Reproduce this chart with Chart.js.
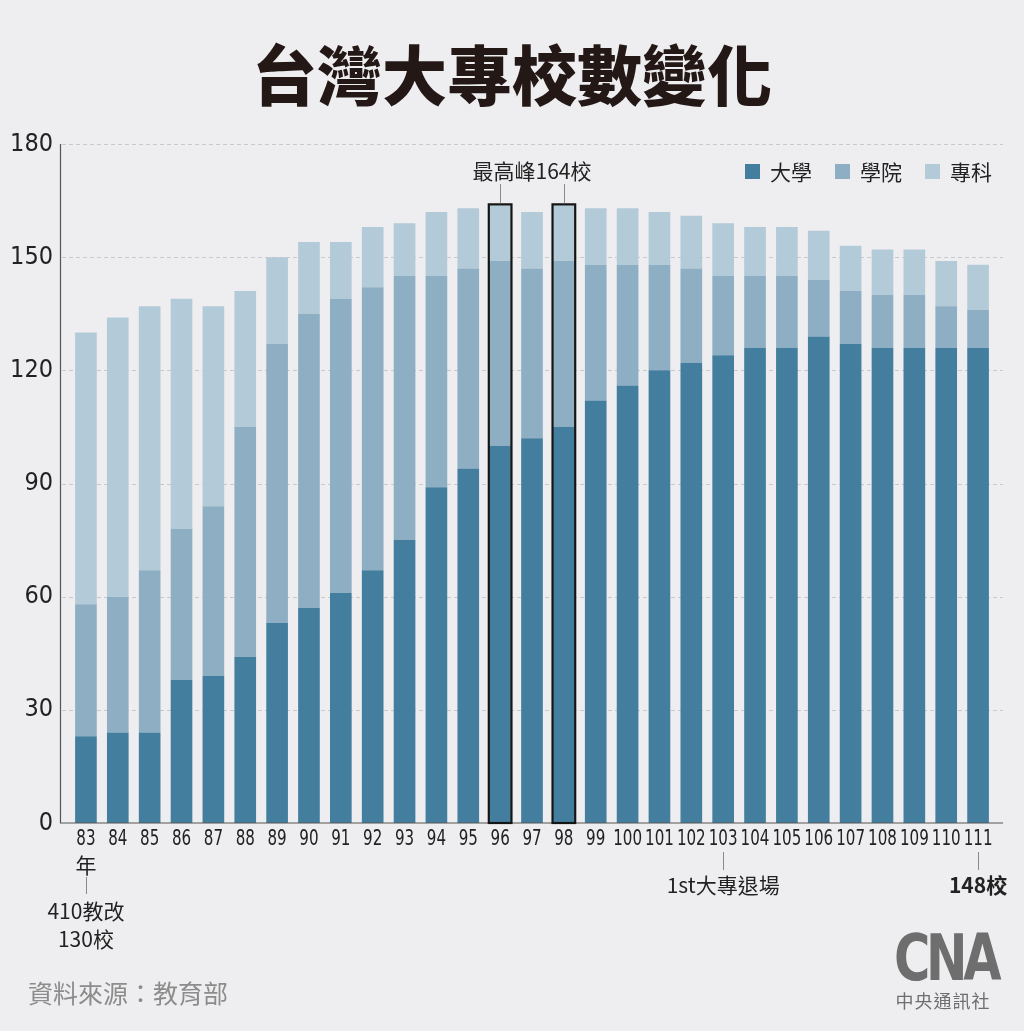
<!DOCTYPE html>
<html>
<head>
<meta charset="utf-8">
<script src="https://cdn.jsdelivr.net/npm/chart.js@4"></script>
<style>
  body { margin: 0; background: #eeeef0; }
  #wrap { position: relative; width: 1024px; height: 1031px; overflow: hidden; }
  #chart { position: absolute; left: 0; top: 0; }
  .title {
    position: absolute; left: 0; top: 29px; width: 1024px; text-align: center;
    font: 900 65px "Noto Sans CJK TC", sans-serif; color: #231815; line-height: 86px;
  }
  .source {
    position: absolute; left: 28px; top: 974px;
    font: 400 25px "Noto Sans CJK TC", sans-serif; color: #8c8c8c;
  }
  .logo { position: absolute; left: 886px; top: 926px; width: 114px; text-align: center; color: #6e6e6e; }
  .logo .mark {
    font: 900 64px "DejaVu Sans Condensed", "DejaVu Sans", sans-serif; letter-spacing: -5px; line-height: 64px;
    transform: scaleX(0.86); transform-origin: 50% 50%;
  }
  .logo .name { font: 400 18px "Noto Sans CJK TC", sans-serif; line-height: 20px; letter-spacing: 1px; }
</style>
</head>
<body>
<div id="wrap">
  <canvas id="chart" width="1024" height="1031"></canvas>
  <div class="title">台灣大專校數變化</div>
  <div class="source">資料來源：教育部</div>
  <div class="logo"><div class="mark">CNA</div><div class="name">中央通訊社</div></div>
</div>
<script>
const ctx = document.getElementById("chart");

// 學年度 (民國)
const years = ["83", "84", "85", "86", "87", "88", "89", "90", "91", "92", "93", "94", "95", "96", "97",
  "98", "99", "100", "101", "102", "103", "104", "105", "106", "107", "108", "109", "110", "111"];

// 校數 by type
const university = [23, 24, 24, 38, 39, 44, 53, 57, 61, 67, 75, 89, 94, 100, 102,
  105, 112, 116, 120, 122, 124, 126, 126, 129, 127, 126, 126, 126, 126];
const college = [35, 36, 43, 40, 45, 61, 74, 78, 78, 75, 70, 56, 53, 49, 45,
  44, 36, 32, 28, 25, 21, 19, 19, 15, 14, 14, 14, 11, 10];
const juniorCollege = [72, 74, 70, 61, 53, 36, 23, 19, 15, 16, 14, 17, 16, 15, 15,
  15, 15, 15, 14, 14, 14, 13, 13, 13, 12, 12, 12, 12, 12];

const seriesNames = ["大學", "學院", "專科"];
const seriesColors = ["#437e9f", "#8eafc3", "#b3cad8"];

const yTicks = [0, 30, 60, 90, 120, 150, 180];
const peakYears = ["96", "98"];

const CJK = '"Noto Sans CJK TC", sans-serif';
const NARROW = '"Liberation Sans Narrow", "DejaVu Sans Condensed", sans-serif';

// extra drawing: dashed grid, axis lines, condensed x labels, peak boxes, notes, legend
const decorations = {
  id: "decorations",
  beforeDatasetsDraw(chart) {
    const c = chart.ctx, y = chart.scales.y;
    c.save();
    c.strokeStyle = "#c9c9cc";
    c.lineWidth = 1;
    c.setLineDash([4, 3]);
    yTicks.forEach((t) => {
      if (t === 0) return;
      const py = Math.round(y.getPixelForValue(t)) + 0.5;
      c.beginPath();
      c.moveTo(62, py);
      c.lineTo(1003, py);
      c.stroke();
    });
    c.restore();
  },
  afterDatasetsDraw(chart) {
    const c = chart.ctx, x = chart.scales.x, y = chart.scales.y;
    const base = y.getPixelForValue(0);
    c.save();

    // axis lines
    c.strokeStyle = "#555";
    c.lineWidth = 1.2;
    c.beginPath();
    c.moveTo(60.5, y.getPixelForValue(180));
    c.lineTo(60.5, base);
    c.lineTo(1003, base);
    c.stroke();

    // x labels, horizontally condensed like the original
    c.fillStyle = "#222";
    c.textAlign = "center";
    c.textBaseline = "middle";
    c.font = "400 21px " + NARROW;
    x.ticks.forEach((t, i) => {
      c.save();
      c.translate(x.getPixelForValue(i), base + 17);
      c.scale(0.8, 1);
      c.fillText(x.getLabelForValue(t.value), 0, 0);
      c.restore();
    });

    // peak boxes
    const meta = chart.getDatasetMeta(0);
    const bw = meta.data[0].width;
    const peakX = [];
    peakYears.forEach((yr) => {
      const i = years.indexOf(yr);
      const total = university[i] + college[i] + juniorCollege[i];
      const px = x.getPixelForValue(i);
      const top = y.getPixelForValue(total);
      c.strokeStyle = "#151515";
      c.lineWidth = 2.2;
      c.strokeRect(px - bw / 2 - 0.5, top, bw + 1, base - top);
      peakX.push({ px, top });
    });

    // leader lines
    c.strokeStyle = "#8a8a8a";
    c.lineWidth = 1;
    const vline = (px, y0, y1) => {
      c.beginPath();
      c.moveTo(Math.round(px) + 0.5, y0);
      c.lineTo(Math.round(px) + 0.5, y1);
      c.stroke();
    };
    peakX.forEach((p) => vline(p.px, 184, p.top - 1));
    vline(x.getPixelForValue(0), 877, 894);
    vline(x.getPixelForValue(years.indexOf("103")), 852, 870);
    vline(x.getPixelForValue(years.length - 1), 852, 870);

    // notes
    c.fillStyle = "#222";
    c.font = "400 21px " + CJK;
    c.fillText("最高峰164校", x.getPixelForValue(years.indexOf("97")), 171);
    c.fillText("年", x.getPixelForValue(0), 865);
    c.fillText("410教改", x.getPixelForValue(0), 911);
    c.fillText("130校", x.getPixelForValue(0), 939);
    c.fillText("1st大專退場", x.getPixelForValue(years.indexOf("103")), 885);
    c.font = "700 21px " + CJK;
    c.fillText("148校", x.getPixelForValue(years.length - 1), 885);

    // legend
    const legendX = [745, 835, 925];
    c.font = "400 21px " + CJK;
    c.textAlign = "left";
    seriesNames.forEach((n, k) => {
      c.fillStyle = seriesColors[k];
      c.fillRect(legendX[k], 164, 15, 15);
      c.fillStyle = "#222";
      c.fillText(n, legendX[k] + 25, 172);
    });
    c.restore();
  },
};

new Chart(ctx, {
  type: "bar",
  plugins: [decorations],
  data: {
    labels: years,
    datasets: [
      { label: seriesNames[0], data: university, backgroundColor: seriesColors[0] },
      { label: seriesNames[1], data: college, backgroundColor: seriesColors[1] },
      { label: seriesNames[2], data: juniorCollege, backgroundColor: seriesColors[2] },
    ],
  },
  options: {
    responsive: false,
    devicePixelRatio: 1,
    animation: false,
    datasets: { bar: { categoryPercentage: 1, barPercentage: 0.68, borderWidth: 0 } },
    layout: { padding: { left: 0, right: 30, top: 144, bottom: 168 } },
    plugins: { legend: { display: false }, tooltip: { enabled: false } },
    scales: {
      x: {
        stacked: true,
        grid: { display: false, drawTicks: false },
        border: { display: false },
        afterFit: (s) => { s.height = 40; },
        ticks: { display: false, autoSkip: false, maxRotation: 0 },
      },
      y: {
        stacked: true,
        min: 0,
        max: 180,
        grid: { display: false, drawTicks: false },
        border: { display: false },
        afterFit: (s) => { s.width = 70; },
        afterBuildTicks: (s) => { s.ticks = yTicks.map((v) => ({ value: v })); },
        ticks: {
          padding: 17,
          color: "#222",
          font: { family: NARROW, size: 25 },
        },
      },
    },
  },
});
</script>
</body>
</html>
